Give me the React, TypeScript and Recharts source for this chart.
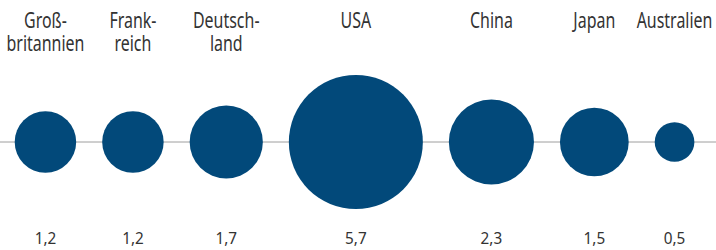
import React from "react";
import {
  ScatterChart,
  Scatter,
  XAxis,
  YAxis,
  ZAxis,
  ReferenceLine,
} from "recharts";

// countries (label lines) and values
const countries = [
  ["Groß-", "britannien"],
  ["Frank-", "reich"],
  ["Deutsch-", "land"],
  ["USA"],
  ["China"],
  ["Japan"],
  ["Australien"],
];
const values = [1.2, 1.2, 1.7, 5.7, 2.3, 1.5, 0.5];
const valueLabels = ["1,2", "1,2", "1,7", "5,7", "2,3", "1,5", "0,5"];

const WIDTH = 716;
const HEIGHT = 250;
const MAX_RADIUS = 67;
const GAP = 26;
const START = 14.7;
const MAX_VALUE = Math.max(...values);

const radiusOf = (v: number) => MAX_RADIUS * Math.sqrt(v / MAX_VALUE);

// bubbles sit side by side with an even gap between them
const positions: number[] = [];
values.reduce((edge, v) => {
  const r = radiusOf(v);
  positions.push(edge + r);
  return edge + 2 * r + GAP;
}, START);

const data = values.map((v, i) => ({ x: positions[i], y: 0, value: v }));

const FONT = "'Noto Sans', sans-serif";
const TEXT = "#333333";

// the source uses a condensed face, so squeeze the text horizontally
function LabelTick(props: any) {
  const { x, index } = props;
  const lines = countries[index] || [];
  return (
    <g>
      <text
        transform={`translate(${x},0) scale(0.76,1)`}
        x={0}
        y={28.5}
        textAnchor="middle"
        fill={TEXT}
        fontFamily={FONT}
        fontSize={21}
      >
        {lines.map((l, i) => (
          <tspan key={i} x={0} dy={i === 0 ? 0 : 23}>
            {l}
          </tspan>
        ))}
      </text>
      <text
        transform={`translate(${x},0) scale(0.9,1)`}
        x={0}
        y={244.5}
        textAnchor="middle"
        fill={TEXT}
        fontFamily={FONT}
        fontSize={17}
      >
        {valueLabels[index]}
      </text>
    </g>
  );
}

export default function App() {
  return (
    <div style={{ position: "absolute", left: 0, top: 0 }}>
      <ScatterChart
        width={WIDTH}
        height={HEIGHT}
        margin={{ top: 68, right: 0, bottom: 0, left: 0 }}
      >
        <XAxis
          type="number"
          dataKey="x"
          domain={[0, WIDTH]}
          ticks={positions}
          interval={0}
          height={34}
          axisLine={false}
          tickLine={false}
          tick={<LabelTick />}
        />
        <YAxis type="number" dataKey="y" domain={[-1, 1]} hide />
        <ZAxis
          type="number"
          dataKey="value"
          domain={[0, MAX_VALUE]}
          range={[0, Math.PI * MAX_RADIUS * MAX_RADIUS]}
        />
        <ReferenceLine y={0} stroke="#9e9e9e" strokeWidth={1} />
        <Scatter data={data} fill="#02497a" isAnimationActive={false} />
      </ScatterChart>
    </div>
  );
}
